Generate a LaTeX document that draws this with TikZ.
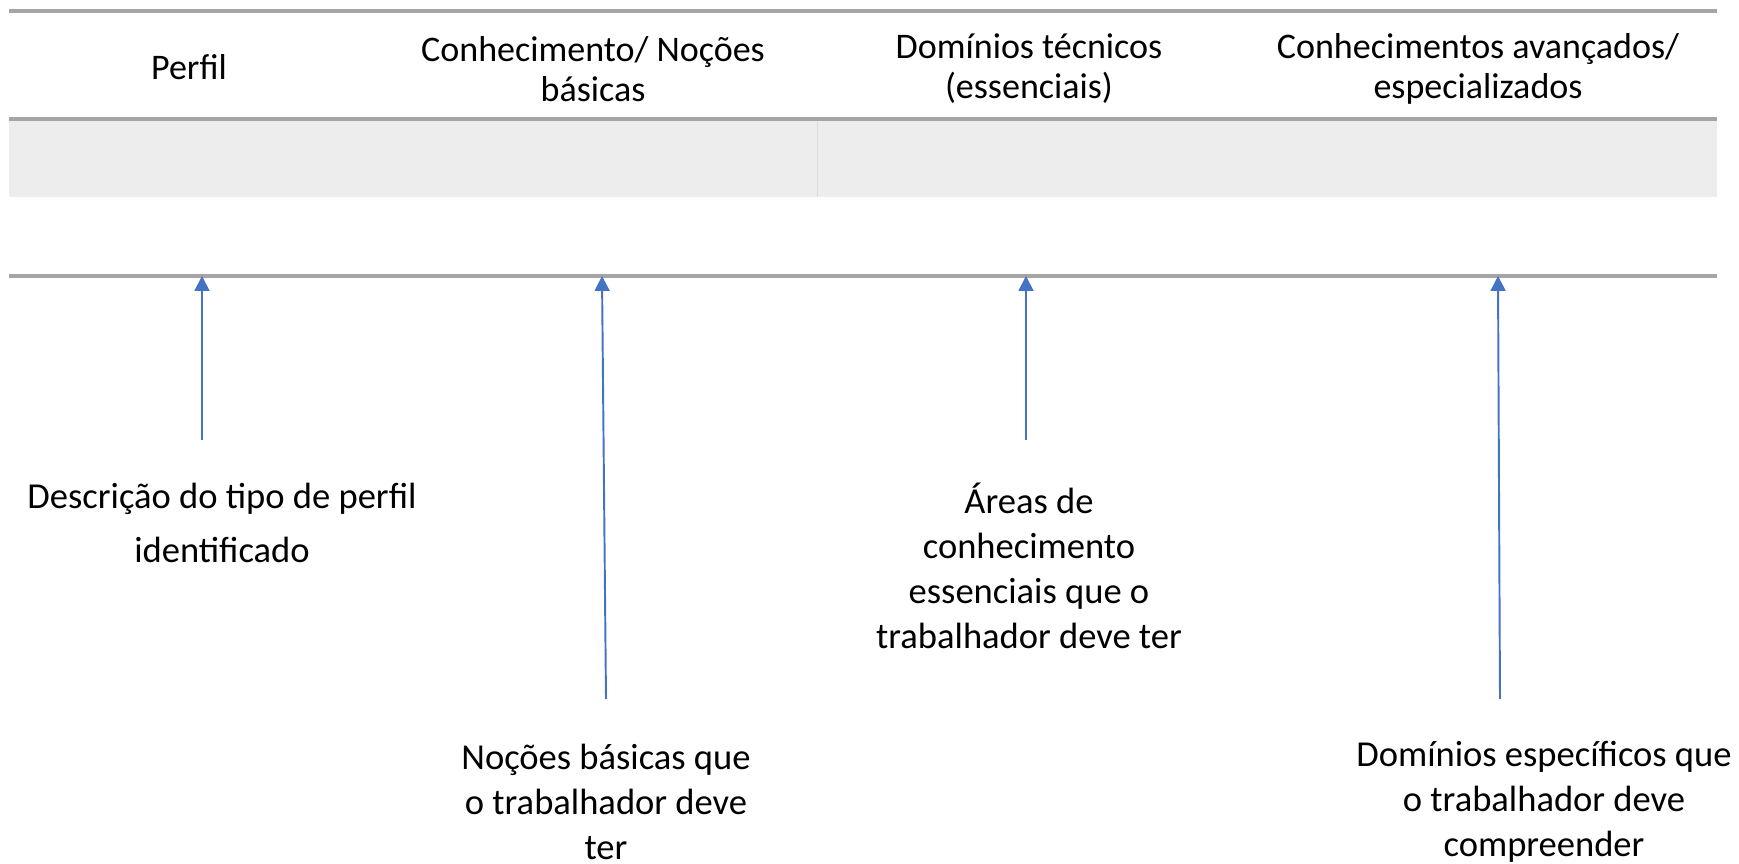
\documentclass[tikz,border=0pt]{standalone}
\usepackage{fontspec}
\setmainfont{Carlito}
\usetikzlibrary{arrows.meta}
\definecolor{rulegray}{HTML}{A5A5A5}
\definecolor{bandgray}{HTML}{EDEDED}
\definecolor{cellgray}{HTML}{DCDCDC}
\definecolor{arrowblue}{HTML}{4472C4}
\begin{document}
\begin{tikzpicture}[x=0.02cm,y=-0.02cm]
    \tikzstyle{every node}+=[inner sep=0pt, align=center]
    \tikzstyle{head}=[font=\fontsize{20.5}{22.7}\selectfont]
    \tikzstyle{note}=[font=\fontsize{20.8}{25.5}\selectfont]
    \tikzstyle{rule}=[rulegray, line width=2.2pt]
    \tikzstyle{pointer}=[arrowblue, line width=1.1pt, -{Triangle[width=8.5pt,length=8.5pt]}]
    \useasboundingbox (0,0) rectangle (1739,864);
    \fill [bandgray] (9,119) rectangle (1717,197);
    \draw [cellgray, line width=0.5pt] (817,119) -- (817,197);
    \draw [rule] (9,11) -- (1717,11);
    \draw [rule] (9,119) -- (1717,119);
    \draw [rule] (9,276) -- (1717,276);
    \node [head] (perfil) at (189,67) {Perfil};
    \node [head] (nocoes) at (593,69) {Conhecimento/ Noções\\básicas};
    \node [head] (tecnicos) at (1029,69) {Domínios técnicos\\(essenciais)};
    \node [head] (avancados) at (1478,69) {Conhecimentos avançados/\\especializados};
    \node [note, font=\fontsize{20.8}{30.6}\selectfont] (descricao) at (222,523) {Descrição do tipo de perfil\\identificado};
    \node [note] (basicas) at (606,802) {Noções básicas que\\o trabalhador deve\\ter};
    \node [note] (areas) at (1029,566) {Áreas de\\conhecimento\\essenciais que o\\trabalhador deve ter};
    \node [note] (especificos) at (1544,802) {Domínios específicos que\\o trabalhador deve\\compreender};
    \coordinate (p1) at (202,440);
    \coordinate (q1) at (202,276);
    \coordinate (p2) at (606,699);
    \coordinate (q2) at (602,276);
    \coordinate (p3) at (1026,440);
    \coordinate (q3) at (1026,276);
    \coordinate (p4) at (1500,699);
    \coordinate (q4) at (1498,276);
    \draw [pointer] (p1) -- (q1);
    \draw [pointer] (p2) -- (q2);
    \draw [pointer] (p3) -- (q3);
    \draw [pointer] (p4) -- (q4);
\end{tikzpicture}
\end{document}
